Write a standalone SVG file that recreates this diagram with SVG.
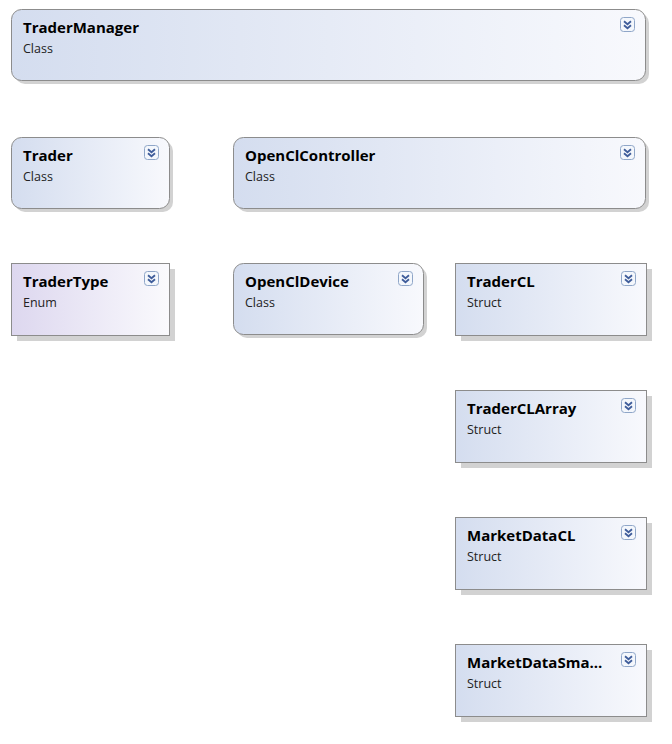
<svg xmlns="http://www.w3.org/2000/svg" width="672" height="744" viewBox="0 0 672 744">
<defs>
<linearGradient id="gClass" x1="0" y1="0" x2="1" y2="0">
<stop offset="0" stop-color="#d4ddef"/>
<stop offset="1" stop-color="#f8f9fd"/>
</linearGradient>
<linearGradient id="gEnum" x1="0" y1="0" x2="1" y2="0">
<stop offset="0" stop-color="#ddd7ef"/>
<stop offset="1" stop-color="#fafafd"/>
</linearGradient>
<g id="icon">
<rect x="0.5" y="0.5" width="14" height="14" rx="3" fill="#f4f7fc" stroke="#8fa6c8"/>
<path d="M4 4.2 L7.5 7.2 L11 4.2 M4 8.2 L7.5 11.2 L11 8.2" fill="none" stroke="#3e5c9a" stroke-width="1.8"/>
</g>
</defs>
<style>
.shadow{fill:#d2d2d2}
.box{stroke:#8c8c8c;stroke-width:1}
.cls{fill:url(#gClass)}
.enm{fill:url(#gEnum)}
.title{font-family:"Open Sans","Noto Sans","DejaVu Sans",sans-serif;font-size:15px;font-weight:bold;fill:#000}
.sub{font-family:"Open Sans","Noto Sans","DejaVu Sans",sans-serif;font-size:12.5px;fill:#222}
</style>
<rect width="672" height="744" fill="#ffffff"/>
<g id="connectors"/>
<g id="TraderManager">
<rect class="shadow" x="15" y="13" width="634" height="71" rx="10"/>
<rect class="box cls" x="11.5" y="9.5" width="634" height="71" rx="10"/>
<text class="title" x="23" y="33">TraderManager</text>
<text class="sub" x="23" y="53">Class</text>
<use href="#icon" x="620" y="17"/>
</g>
<g id="Trader">
<rect class="shadow" x="15" y="141" width="158" height="71" rx="10"/>
<rect class="box cls" x="11.5" y="137.5" width="158" height="71" rx="10"/>
<text class="title" x="23" y="161">Trader</text>
<text class="sub" x="23" y="181">Class</text>
<use href="#icon" x="144" y="145"/>
</g>
<g id="OpenClController">
<rect class="shadow" x="237" y="141" width="412" height="71" rx="10"/>
<rect class="box cls" x="233.5" y="137.5" width="412" height="71" rx="10"/>
<text class="title" x="245" y="161">OpenClController</text>
<text class="sub" x="245" y="181">Class</text>
<use href="#icon" x="620" y="145"/>
</g>
<g id="TraderType">
<rect class="shadow" x="17" y="269" width="158" height="72"/>
<rect class="box enm" x="11.5" y="263.5" width="158" height="72"/>
<text class="title" x="23" y="287">TraderType</text>
<text class="sub" x="23" y="307">Enum</text>
<use href="#icon" x="144" y="271"/>
</g>
<g id="OpenClDevice">
<rect class="shadow" x="237" y="267" width="190" height="71" rx="10"/>
<rect class="box cls" x="233.5" y="263.5" width="190" height="71" rx="10"/>
<text class="title" x="245" y="287">OpenClDevice</text>
<text class="sub" x="245" y="307">Class</text>
<use href="#icon" x="398" y="271"/>
</g>
<g id="TraderCL">
<rect class="shadow" x="461" y="269" width="191" height="72"/>
<rect class="box cls" x="455.5" y="263.5" width="191" height="72"/>
<text class="title" x="467" y="287">TraderCL</text>
<text class="sub" x="467" y="307">Struct</text>
<use href="#icon" x="621" y="271"/>
</g>
<g id="TraderCLArray">
<rect class="shadow" x="461" y="396" width="191" height="72"/>
<rect class="box cls" x="455.5" y="390.5" width="191" height="72"/>
<text class="title" x="467" y="414">TraderCLArray</text>
<text class="sub" x="467" y="434">Struct</text>
<use href="#icon" x="621" y="398"/>
</g>
<g id="MarketDataCL">
<rect class="shadow" x="461" y="523" width="191" height="72"/>
<rect class="box cls" x="455.5" y="517.5" width="191" height="72"/>
<text class="title" x="467" y="541">MarketDataCL</text>
<text class="sub" x="467" y="561">Struct</text>
<use href="#icon" x="621" y="525"/>
</g>
<g id="MarketDataSmall">
<rect class="shadow" x="461" y="650" width="191" height="72"/>
<rect class="box cls" x="455.5" y="644.5" width="191" height="72"/>
<text class="title" x="467" y="668">MarketDataSma...</text>
<text class="sub" x="467" y="688">Struct</text>
<use href="#icon" x="621" y="652"/>
</g>
</svg>
